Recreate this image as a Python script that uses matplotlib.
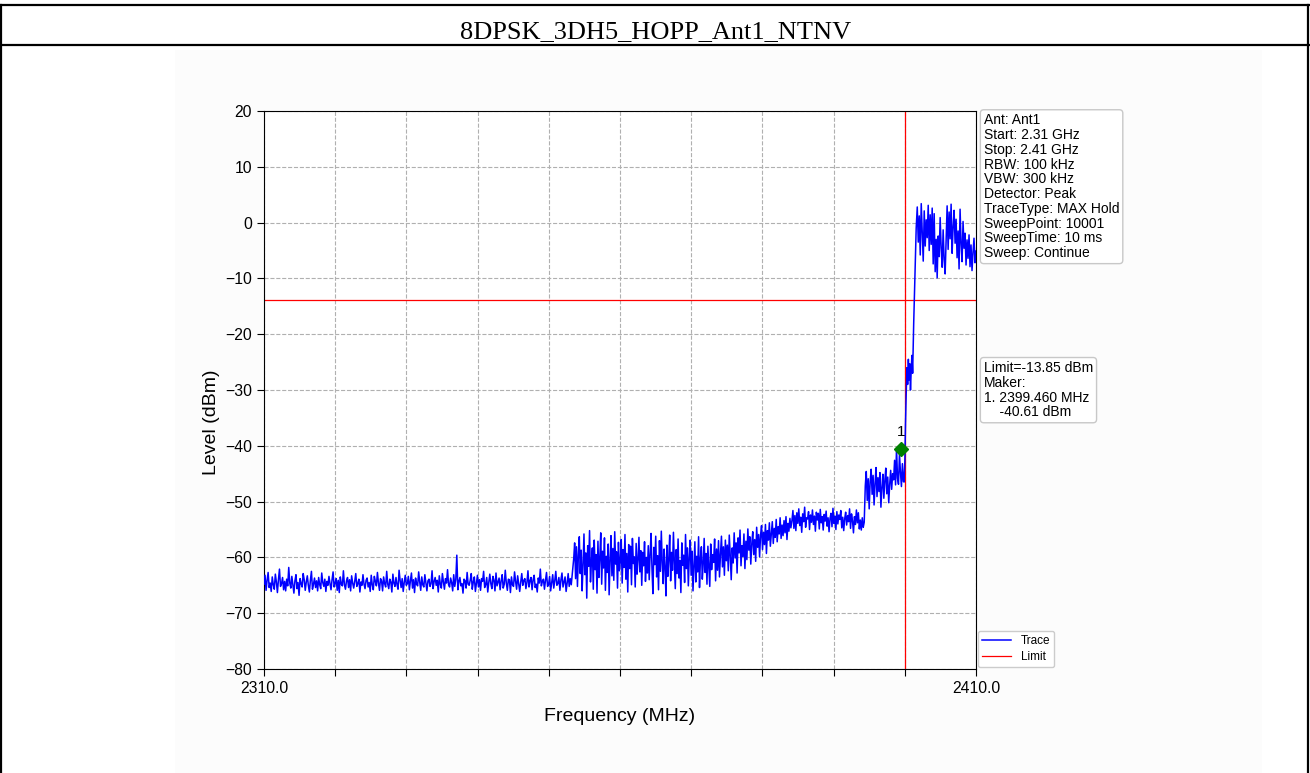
import numpy as np
import matplotlib
matplotlib.use("Agg")
import matplotlib.pyplot as plt
from matplotlib.lines import Line2D
from matplotlib.patches import Rectangle

plt.rcParams["font.family"] = ["Liberation Sans", "DejaVu Sans"]

# ---- sweep settings / annotations ----
title_text = "8DPSK_3DH5_HOPP_Ant1_NTNV"
f_start, f_stop = 2310.0, 2410.0
y_min, y_max = -80, 20
limit_level = -13.85
band_edge = 2400.0
marker_freq = 2399.46
marker_level = -40.61
info_lines = [
    "Ant: Ant1",
    "Start: 2.31 GHz",
    "Stop: 2.41 GHz",
    "RBW: 100 kHz",
    "VBW: 300 kHz",
    "Detector: Peak",
    "TraceType: MAX Hold",
    "SweepPoint: 10001",
    "SweepTime: 10 ms",
    "Sweep: Continue",
]

# ---- measured trace, piecewise (start MHz, stop MHz, levels dBm) ----
floor_span = (2310.0, 2353.3)
floor_levels = [
    -64.8, -63.2, -65.9, -64.1, -62.7, -65.4, -64.6, -66.1, -63.5, -64.9,
    -65.7, -63.0, -64.4, -66.3, -64.0, -62.1, -65.2, -64.7, -63.6, -65.8,
    -64.3, -66.0, -63.9, -65.1, -61.8, -64.6, -65.5, -63.4, -64.9, -66.4,
    -64.2, -63.1, -65.6, -64.5, -66.8, -63.8, -64.7, -65.3, -62.9, -64.0,
    -65.9, -64.4, -63.3, -65.0, -66.2, -64.1, -62.5, -65.7, -64.8, -63.7,
    -65.4, -64.2, -66.0, -63.6, -64.9, -65.6, -62.8, -64.5, -65.2, -63.9,
    -66.1, -64.3, -65.0, -63.4, -64.7, -65.8, -64.0, -62.6, -65.3, -64.6,
    -63.8, -65.9, -64.1, -66.3, -63.5, -64.8, -65.1, -62.4, -64.9, -65.7,
    -64.2, -63.6, -65.4, -64.0, -66.0, -63.3, -64.6, -65.5, -64.3, -62.9,
    -65.2, -64.7, -63.9, -66.2, -64.4, -65.0, -63.1, -64.8, -65.6, -64.1,
    -63.7, -65.3, -64.5, -66.1, -63.2, -64.9, -65.8, -63.4, -64.3, -65.1,
    -62.7, -64.6, -65.9, -63.8, -64.2, -66.0, -63.5, -64.7, -65.3, -62.5,
    -64.8, -65.6, -63.9, -64.4, -66.2, -63.0, -64.6, -65.2, -63.6, -64.9,
    -65.7, -62.3, -64.1, -65.4, -63.8, -66.1, -64.5, -63.2, -65.0, -64.7,
    -63.4, -65.8, -64.2, -62.8, -65.5, -64.0, -66.3, -63.7, -64.8, -65.1,
    -62.6, -64.4, -65.9, -63.5, -64.9, -65.3, -63.1, -64.6, -66.0, -64.2,
    -63.9, -65.2, -64.7, -62.4, -65.6, -64.3, -63.6, -65.0, -64.1, -66.2,
    -63.3, -64.8, -65.5, -62.9, -64.4, -65.7, -63.8, -64.6, -62.2, -64.9,
    -65.3, -63.7, -64.5, -66.0, -63.1, -65.2, -64.0, -59.6, -65.8, -64.3,
    -63.6, -65.1, -64.7, -66.4, -63.9, -64.2, -65.5, -62.7, -64.8, -65.0,
    -64.1, -62.9, -65.7, -64.4, -63.5, -66.1, -64.6, -63.2, -65.3, -64.0,
    -65.9, -63.8, -64.3, -62.5, -65.4, -64.9, -63.6, -66.2, -64.5, -63.0,
    -64.7, -65.6, -63.4, -64.1, -66.0, -62.8, -65.1, -64.4, -63.7, -65.8,
    -64.2, -63.1, -65.5, -64.8, -62.3, -64.6, -65.9, -63.9, -64.0, -66.3,
    -63.5, -64.9, -65.2, -62.6, -64.3, -65.7, -63.3, -64.7, -66.1, -64.4,
    -62.9, -65.0, -64.1, -63.8, -65.6, -64.5, -62.4, -65.3, -64.2, -63.6,
    -65.8, -64.0, -63.2, -65.4, -64.8, -66.2, -63.7, -64.6, -62.1, -65.1,
    -64.3, -63.9, -65.7, -64.1, -62.7, -65.2, -64.9, -63.4, -66.0, -64.5,
    -63.1, -65.5, -64.2, -62.5, -65.0, -64.7, -63.6, -65.9, -64.0, -62.8,
    -65.3, -64.4, -63.5, -66.1, -64.6, -62.9, -65.2, -63.8, -64.9, -63.0,
]

band_span = (2353.5, 2373.0)
band_levels = [
    -60.2, -57.4, -63.8, -58.1, -65.2, -59.6, -56.3, -62.9, -58.7, -66.0,
    -61.4, -55.8, -63.1, -59.2, -67.3, -57.9, -61.6, -55.2, -64.4, -60.8,
    -58.3, -65.7, -56.9, -62.2, -59.5, -66.4, -57.1, -63.6, -60.1, -55.6,
    -64.8, -58.9, -61.9, -56.5, -65.9, -59.8, -62.7, -57.6, -66.7, -60.5,
    -56.1, -63.3, -58.4, -64.1, -55.4, -61.2, -59.0, -65.5, -57.3, -62.4,
    -60.7, -56.8, -64.6, -58.6, -61.8, -55.9, -63.9, -59.3, -66.2, -57.7,
    -62.0, -58.0, -64.9, -56.6, -61.1, -59.9, -65.3, -57.5, -63.0, -60.4,
    -56.4, -62.6, -58.8, -65.0, -59.1, -61.5, -57.2, -64.3, -60.0, -62.8,
    -57.9, -64.0, -59.4, -55.7, -62.1, -66.5, -58.2, -61.3, -56.2, -63.5,
    -59.7, -65.8, -57.0, -62.5, -55.3, -60.9, -64.7, -58.5, -61.7, -66.9,
    -57.8, -63.4, -60.3, -56.0, -64.2, -59.1, -62.3, -55.5, -61.0, -65.6,
    -58.6, -62.9, -56.7, -63.7, -60.6, -66.3, -57.4, -61.4, -59.6, -64.5,
    -55.9, -62.0, -58.3, -65.1, -60.0, -56.9, -63.2, -58.9, -66.0, -61.8,
    -57.2, -64.4, -59.8, -62.6, -56.3, -65.4, -60.2, -58.1, -63.9, -61.1,
    -56.6, -62.7, -59.3, -64.8, -58.0, -61.6, -65.2, -57.6, -62.2, -59.5,
]

ramp_span = (2373.15, 2384.0)
ramp_levels = [
    -60.9, -56.7, -64.2, -58.5, -62.3, -57.0, -63.5, -59.4, -56.2, -61.7,
    -58.1, -63.2, -56.9, -60.6, -57.8, -62.4, -56.0, -59.7, -64.0, -58.3,
    -61.0, -55.6, -60.1, -57.4, -62.8, -56.5, -59.2, -55.1, -61.5, -57.9,
    -59.8, -55.8, -62.0, -57.1, -60.4, -54.9, -58.7, -56.3, -61.2, -57.6,
    -55.4, -59.5, -56.8, -60.7, -54.6, -58.2, -55.9, -59.9, -56.0, -54.3,
    -58.6, -55.5, -57.7, -54.1, -59.3, -55.2, -56.9, -53.8, -58.0, -55.7,
    -53.6, -57.5, -54.8, -56.4, -53.2, -57.2, -54.5, -55.8, -52.9, -56.6,
    -54.2, -56.1, -53.4, -55.6, -52.7, -56.8, -53.9, -55.3, -53.0, -54.7,
]

plateau_span = (2384.15, 2394.3)
plateau_levels = [
    -53.4, -51.6, -54.8, -52.5, -55.2, -52.0, -53.9, -51.3, -54.3, -52.8,
    -55.5, -52.2, -53.6, -51.0, -54.6, -52.9, -53.1, -51.8, -55.0, -52.4,
    -53.7, -51.5, -54.1, -52.6, -55.3, -51.9, -53.3, -52.1, -54.9, -51.4,
    -53.8, -52.7, -55.1, -52.3, -53.5, -51.7, -54.4, -52.9, -55.4, -53.0,
    -52.1, -54.5, -51.2, -53.9, -52.6, -55.0, -51.8, -54.0, -52.4, -53.2,
    -51.6, -54.7, -52.8, -55.2, -53.1, -51.9, -54.2, -52.5, -53.6, -51.3,
    -54.8, -52.2, -53.4, -55.6, -52.7, -54.1, -51.5, -53.8, -52.0, -54.9,
    -53.3, -55.1, -52.9, -54.6, -53.7,
]

shoulder_span = (2394.45, 2399.8)
shoulder_levels = [
    -47.2, -44.6, -49.8, -45.9, -51.3, -46.4, -44.2, -48.7, -45.3, -50.6,
    -46.8, -43.9, -49.1, -45.7, -48.2, -44.8, -51.0, -47.5, -45.1, -49.4,
    -46.3, -44.0, -48.6, -45.6, -50.2, -46.9, -44.4, -47.8, -45.0, -46.1,
    -42.6, -47.0, -40.4, -45.8, -46.9, -41.5, -44.7, -47.3, -43.2, -46.4,
]

edge_freqs = [2399.9, 2400.0, 2400.1, 2400.2, 2400.3, 2400.4, 2400.5, 2400.6,
              2400.7, 2400.8, 2400.9, 2401.0, 2401.1, 2401.25, 2401.45, 2401.6]
edge_levels = [-46.5, -43.0, -36.0, -30.5, -26.0, -29.0, -24.5, -28.2,
               -25.3, -30.0, -26.4, -23.8, -27.0, -18.0, -8.5, -1.0]

inband_span = (2401.75, 2410.0)
inband_levels = [
    2.8, -3.5, 1.2, -5.8, 3.4, -1.6, -6.9, 2.1, -4.2, 0.5,
    -2.7, 3.1, -5.0, 1.4, -3.9, 2.6, -7.4, 1.6, -8.8, -3.0,
    -9.9, -2.4, -6.1, 0.9, -4.5, -8.0, -1.3, -6.6, -9.2, -3.4,
    3.0, -4.8, 1.9, -2.9, 3.3, -5.5, -0.8, 2.2, -3.7, 0.6,
    -6.3, -1.5, -8.3, 2.4, -3.7, -7.0, 0.2, -4.6, -1.9, -7.6,
    -3.1, -6.4, -2.2, -7.9, -4.0, -8.6, -5.3, -2.8, -7.2, -5.1,
]


def spread(span, levels):
    return np.linspace(span[0], span[1], len(levels))


freq = np.concatenate([
    spread(floor_span, floor_levels),
    spread(band_span, band_levels),
    spread(ramp_span, ramp_levels),
    spread(plateau_span, plateau_levels),
    spread(shoulder_span, shoulder_levels),
    np.array(edge_freqs),
    spread(inband_span, inband_levels),
])
level = np.concatenate([
    floor_levels, band_levels, ramp_levels, plateau_levels,
    shoulder_levels, edge_levels, inband_levels,
])

# ---- figure ----
W, H = 1310, 773
fig = plt.figure(figsize=(W / 100, H / 100), dpi=100)
fig.patch.set_facecolor("white")


def fx(px):
    return px / W


def fy(py):
    return 1 - py / H


# report table frame and header
fig.add_artist(Rectangle((fx(175), 0), fx(1262) - fx(175), fy(50),
                         transform=fig.transFigure, facecolor="#fcfcfc",
                         edgecolor="none", zorder=0))
for yy in (5, 45):
    fig.add_artist(Line2D([fx(0), fx(1309)], [fy(yy), fy(yy)],
                          transform=fig.transFigure, color="black", lw=1.6))
for xx in (1, 1307.5):
    fig.add_artist(Line2D([fx(xx), fx(xx)], [fy(5), 0],
                          transform=fig.transFigure, color="black", lw=1.6))
fig.text(fx(656), fy(32), title_text, ha="center", va="center",
         fontsize=19, family=["Liberation Serif", "DejaVu Serif"])

ax = fig.add_axes([fx(264), fy(669), fx(976) - fx(264), fy(111) - fy(669)])
ax.set_facecolor("white")

ax.plot(freq, level, color="blue", lw=1.1, label="Trace", zorder=3)
ax.axhline(limit_level, color="red", lw=0.9, label="Limit", zorder=2)
ax.axvline(band_edge, color="red", lw=0.9, zorder=2)
ax.plot([marker_freq], [marker_level], marker="D", color="green",
        markersize=7, linestyle="none", zorder=4)
ax.annotate("1", (marker_freq, marker_level), xytext=(0, 7),
            textcoords="offset points", ha="center", va="bottom", fontsize=11)

ax.set_xlim(f_start, f_stop)
ax.set_ylim(y_min, y_max)
xt = np.arange(f_start, f_stop + 0.1, 10)
ax.set_xticks(xt)
ax.set_xticklabels([f"{v:.1f}" if v in (f_start, f_stop) else "" for v in xt])
ax.set_yticks(np.arange(y_min, y_max + 1, 10))
ax.tick_params(labelsize=11.3, length=5)
ax.grid(True, linestyle="--", color="#b0b0b0", lw=0.8)
ax.set_xlabel("Frequency (MHz)", fontsize=14, labelpad=9)
ax.set_ylabel("Level (dBm)", fontsize=14)
ax.yaxis.label.set_y(0.443)

box = dict(boxstyle="round,pad=0.25", facecolor="white", edgecolor="#c8c8c8")
ax.text(1.011, 0.996, "\n".join(info_lines), transform=ax.transAxes,
        ha="left", va="top", fontsize=10, bbox=box, linespacing=1.07)
ax.text(1.011, 0.552,
        f"Limit={limit_level:.2f} dBm\nMaker:\n1. {marker_freq:.3f} MHz\n    {marker_level:.2f} dBm",
        transform=ax.transAxes, ha="left", va="top", fontsize=10, bbox=box,
        linespacing=1.07)

ax.legend(loc="lower left", bbox_to_anchor=(1.0, 0.0), fontsize=8.5,
          handlelength=2.5, borderaxespad=0.15, labelspacing=0.35,
          borderpad=0.35, framealpha=1, edgecolor="#cccccc")

fig.savefig("out.png", dpi=100)
